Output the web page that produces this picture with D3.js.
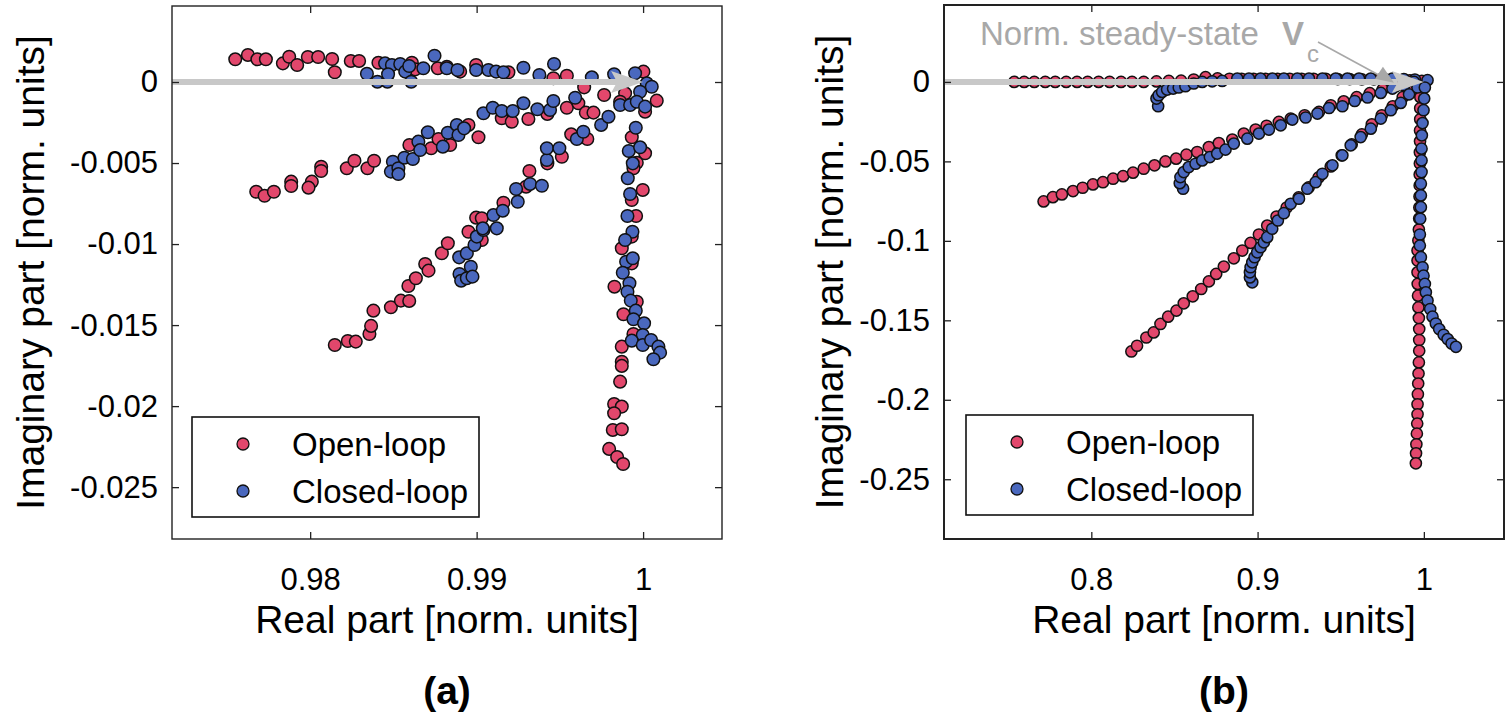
<!DOCTYPE html>
<html>
<head>
<meta charset="utf-8">
<script src="https://cdn.jsdelivr.net/npm/d3@7"></script>
<style>
  body { margin: 0; background: #fff; }
  svg { display: block; font-family: Arial, "Liberation Sans", sans-serif; }
</style>
</head>
<body>
<svg id="chart" width="1510" height="726"></svg>
<script>
// ---- data: panel (a) ----
const aXTicks = [0.98, 0.99, 1]
const aXTickLabels = ['0.98', '0.99', '1']
const aYTicks = [0, -0.005, -0.01, -0.015, -0.02, -0.025]
const aYTickLabels = ['0', '-0.005', '-0.01', '-0.015', '-0.02', '-0.025']

const aOpen = [
  // near-horizontal branch
  [0.97550, 0.00140], [0.97626, 0.00167], [0.97683, 0.00140], [0.97734, 0.00140], [0.97836, 0.00115],
  [0.97874, 0.00156], [0.97922, 0.00105], [0.97986, 0.00154], [0.98048, 0.00154], [0.98132, 0.00142],
  [0.98148, 0.00060], [0.98244, 0.00130], [0.98294, 0.00130], [0.98410, 0.00119], [0.98611, 0.00119],
  [0.98631, 0.00078], [0.98767, 0.00085], [0.98821, 0.00094], [0.98901, 0.00064], [0.98997, 0.00105],
  [0.99191, 0.00060], [0.99461, 0.00023], [0.99542, 0.00039], [0.99646, -0.00033], [0.99766, -0.00080],
  [1.00002, 0.00064], [1.00082, -0.00115], [1.00012, -0.00183],
  // second branch
  [0.97676, -0.00677], [0.97726, -0.00702], [0.97782, -0.00677], [0.97886, -0.00615], [0.97886, -0.00642],
  [0.98010, -0.00615], [0.97990, -0.00652], [0.98066, -0.00523], [0.98066, -0.00549], [0.98220, -0.00532],
  [0.98266, -0.00486], [0.98344, -0.00532], [0.98384, -0.00486], [0.98596, -0.00389], [0.98727, -0.00409],
  [0.98771, -0.00352], [0.98841, -0.00389], [0.98951, -0.00265], [0.99011, -0.00341], [0.99151, -0.00224],
  [0.99211, -0.00245], [0.99311, -0.00228], [0.99425, -0.00197], [0.99542, -0.00159], [0.99611, -0.00131],
  [0.99656, -0.00189], [0.99702, -0.00189], [0.99892, -0.00070], [0.99862, -0.00122],
  // third branch
  [0.98148, -0.01623], [0.98226, -0.01598], [0.98274, -0.01602], [0.98356, -0.01555], [0.98366, -0.01505],
  [0.98380, -0.01411], [0.98485, -0.01390], [0.98545, -0.01349], [0.98595, -0.01351], [0.98590, -0.01259],
  [0.98635, -0.01211], [0.98691, -0.01123], [0.98711, -0.01164], [0.98791, -0.01057], [0.98827, -0.00995],
  [0.98951, -0.00924], [0.99031, -0.00975], [0.98997, -0.00837], [0.99031, -0.00841], [0.99161, -0.00745],
  [0.99297, -0.00646], [0.99317, -0.00549], [0.99425, -0.00502], [0.99512, -0.00461], [0.99568, -0.00323],
  [0.99665, -0.00352],
  // vertical branch
  [0.99932, -0.00341], [1.00012, -0.00440], [0.99962, -0.00498], [0.99942, -0.00532], [0.99998, -0.00666],
  [0.99932, -0.00728], [0.99958, -0.00827], [0.99932, -0.00954], [0.99872, -0.01026], [0.99932, -0.01119],
  [0.99828, -0.01263], [0.99962, -0.01356], [0.99882, -0.01433], [0.99942, -0.01555], [0.99872, -0.01633],
  [0.99872, -0.01726], [0.99872, -0.01752], [0.99862, -0.01849], [0.99826, -0.01987], [0.99872, -0.02003],
  [0.99826, -0.02044], [0.99818, -0.02147], [0.99872, -0.02143], [0.99796, -0.02264], [0.99844, -0.02314],
  [0.99880, -0.02357]
]

const aClosed = [
  // near-horizontal branch
  [0.98341, 0.00051], [0.98450, 0.00115], [0.98404, 0.00002], [0.98464, 0.00002], [0.98491, 0.00105],
  [0.98541, 0.00111], [0.98468, 0.00048], [0.98571, 0.00064], [0.98595, 0.00099], [0.98607, 0.00002],
  [0.98680, 0.00085], [0.98747, 0.00162], [0.98821, 0.00085], [0.98885, 0.00074], [0.98997, 0.00074],
  [0.99071, 0.00074], [0.99117, 0.00064], [0.99161, 0.00060], [0.99281, 0.00088], [0.99377, 0.00043],
  [0.99465, 0.00111], [0.99692, 0.00029], [0.99826, 0.00048], [0.99952, 0.00054], [1.00022, -0.00008],
  [1.00052, -0.00029], [0.99982, -0.00060],
  // second branch
  [0.98497, -0.00492], [0.98485, -0.00553], [0.98530, -0.00532], [0.98530, -0.00568], [0.98566, -0.00467],
  [0.98617, -0.00475], [0.98650, -0.00368], [0.98661, -0.00420], [0.98707, -0.00310], [0.98797, -0.00399],
  [0.98827, -0.00313], [0.98881, -0.00265], [0.98891, -0.00327], [0.98925, -0.00286], [0.99041, -0.00193],
  [0.99097, -0.00159], [0.99151, -0.00179], [0.99217, -0.00179], [0.99281, -0.00131], [0.99365, -0.00168],
  [0.99441, -0.00173], [0.99461, -0.00117], [0.99592, -0.00097], [0.99862, -0.00142], [0.99922, -0.00142],
  [0.99962, -0.00122], [1.00012, -0.00152],
  // third branch
  [0.98895, -0.01082], [0.98941, -0.01057], [0.98965, -0.01140], [0.98897, -0.01185], [0.98907, -0.01226],
  [0.98941, -0.01211], [0.98975, -0.01201], [0.98987, -0.01006], [0.99001, -0.00954], [0.99041, -0.00913],
  [0.99037, -0.00903], [0.99121, -0.00903], [0.99101, -0.00821], [0.99157, -0.00794], [0.99247, -0.00739],
  [0.99237, -0.00660], [0.99321, -0.00629], [0.99392, -0.00640], [0.99422, -0.00481], [0.99422, -0.00409],
  [0.99497, -0.00409], [0.99602, -0.00352], [0.99641, -0.00307], [0.99748, -0.00265], [0.99792, -0.00214],
  // vertical branch
  [0.99956, -0.00282], [0.99914, -0.00426], [0.99982, -0.00403], [0.99938, -0.00502], [0.99908, -0.00594],
  [0.99922, -0.00691], [0.99906, -0.00827], [0.99936, -0.00924], [0.99892, -0.00975], [0.99898, -0.01109],
  [0.99938, -0.01088], [0.99878, -0.01177], [0.99918, -0.01242], [0.99906, -0.01294], [0.99926, -0.01349],
  [0.99956, -0.01411], [0.99942, -0.01464], [1.00006, -0.01489], [0.99998, -0.01561], [0.99932, -0.01596],
  [0.99998, -0.01623], [1.00048, -0.01592], [1.00092, -0.01633], [1.00102, -0.01670], [1.00062, -0.01711]
]

// ---- data: panel (b) ----
const bXTicks = [0.8, 0.9, 1]
const bXTickLabels = ['0.8', '0.9', '1']
const bYTicks = [0, -0.05, -0.1, -0.15, -0.2, -0.25]
const bYTickLabels = ['0', '-0.05', '-0.1', '-0.15', '-0.2', '-0.25']

const bOpen = [
  // horizontal branch
  [0.7536, 0], [0.7596, 0], [0.7657, 0], [0.7723, 0], [0.7783, 0], [0.7849, 0], [0.7914, 0], [0.7978, 0],
  [0.8044, 0], [0.8110, 0], [0.8179, 0], [0.8245, 0], [0.8315, 0], [0.8392, 0.0003], [0.8466, 0.0006],
  [0.8540, 0.0008], [0.8616, 0.0015], [0.8687, 0.0030], [0.8759, 0.0022], [0.8831, 0.0020], [0.8904, 0.0020],
  [0.8976, 0.0020], [0.9048, 0.0020], [0.9120, 0.0020], [0.9193, 0.0020], [0.9265, 0.0020], [0.9337, 0.0020],
  [0.9410, 0.0020], [0.9482, 0.0018], [0.9554, 0.0018], [0.9627, 0.0016], [0.9699, 0.0016], [0.9771, 0.0014],
  [0.9843, 0.0012], [0.9916, 0.0010], [0.9988, 0.0006],
  // second branch
  [0.7713, -0.0752], [0.7769, -0.0725], [0.7823, -0.0708], [0.7890, -0.0687], [0.7948, -0.0666],
  [0.8010, -0.0645], [0.8070, -0.0631], [0.8131, -0.0609], [0.8191, -0.0593], [0.8251, -0.0571],
  [0.8315, -0.0546], [0.8380, -0.0525], [0.8446, -0.0500], [0.8510, -0.0483], [0.8572, -0.0458],
  [0.8637, -0.0441], [0.8707, -0.0410], [0.8767, -0.0385], [0.8848, -0.0363], [0.8917, -0.0325],
  [0.8988, -0.0300], [0.9054, -0.0276], [0.9128, -0.0252], [0.9199, -0.0231], [0.9283, -0.0210],
  [0.9369, -0.0189], [0.9440, -0.0147], [0.9518, -0.0122], [0.9596, -0.0096], [0.9675, -0.0071],
  [0.9753, -0.0046], [0.9831, -0.0027], [0.9910, -0.0008],
  // third branch
  [0.8241, -0.1696], [0.8275, -0.1660], [0.8331, -0.1608], [0.8375, -0.1576], [0.8416, -0.1523],
  [0.8462, -0.1477], [0.8512, -0.1439], [0.8556, -0.1393], [0.8610, -0.1349], [0.8661, -0.1303],
  [0.8707, -0.1255], [0.8751, -0.1208], [0.8797, -0.1162], [0.8857, -0.1110], [0.8908, -0.1061],
  [0.8958, -0.1013], [0.9008, -0.0960], [0.9058, -0.0904], [0.9114, -0.0847], [0.9175, -0.0790],
  [0.9247, -0.0727], [0.9307, -0.0664], [0.9367, -0.0601], [0.9440, -0.0532], [0.9506, -0.0462],
  [0.9566, -0.0393], [0.9627, -0.0330], [0.9687, -0.0267], [0.9747, -0.0210], [0.9813, -0.0153],
  [0.9873, -0.0096], [0.9934, -0.0046],
  // vertical branch
  [0.9979, -0.0027], [0.9979, -0.0096], [0.9978, -0.0166], [0.9978, -0.0235], [0.9977, -0.0305],
  [0.9977, -0.0374], [0.9976, -0.0443], [0.9976, -0.0513], [0.9975, -0.0582], [0.9975, -0.0651],
  [0.9974, -0.0721], [0.9973, -0.0790], [0.9972, -0.0859], [0.9970, -0.0929], [0.9967, -0.0998],
  [0.9962, -0.1061], [0.9962, -0.1124], [0.9962, -0.1198], [0.9963, -0.1271], [0.9965, -0.1345],
  [0.9967, -0.1419], [0.9970, -0.1486], [0.9972, -0.1555], [0.9972, -0.1624], [0.9972, -0.1692],
  [0.9970, -0.1765], [0.9968, -0.1835], [0.9966, -0.1898], [0.9964, -0.1965], [0.9962, -0.2028],
  [0.9962, -0.2091], [0.9960, -0.2150], [0.9958, -0.2213], [0.9955, -0.2280], [0.9953, -0.2337],
  [0.9952, -0.2400]
]

const bClosed = [
  // horizontal branch with hook
  [0.8402, -0.0153], [0.8392, -0.0105], [0.8405, -0.0084], [0.8426, -0.0063], [0.8456, -0.0048],
  [0.8492, -0.0042], [0.8526, -0.0035], [0.8566, -0.0027], [0.8616, -0.0010], [0.8667, 0.0000],
  [0.8727, 0.0004], [0.8787, 0.0006], [0.8878, 0.0021], [0.8948, 0.0021], [0.9018, 0.0021],
  [0.9089, 0.0021], [0.9158, 0.0021], [0.9239, 0.0021], [0.9309, 0.0021], [0.9390, 0.0021],
  [0.9470, 0.0021], [0.9540, 0.0021], [0.9610, 0.0021], [0.9681, 0.0021], [0.9751, 0.0021],
  [0.9811, 0.0021], [0.9880, 0.0018], [0.9946, 0.0015], [1.0022, 0.0011],
  // second branch
  [0.8552, -0.0672], [0.8532, -0.0637], [0.8536, -0.0599], [0.8556, -0.0567], [0.8586, -0.0536],
  [0.8627, -0.0515], [0.8667, -0.0494], [0.8713, -0.0473], [0.8757, -0.0451], [0.8807, -0.0426],
  [0.8857, -0.0388], [0.8938, -0.0357], [0.9008, -0.0325], [0.9068, -0.0300], [0.9139, -0.0273],
  [0.9209, -0.0237], [0.9289, -0.0224], [0.9360, -0.0199], [0.9430, -0.0164], [0.9510, -0.0153],
  [0.9584, -0.0120], [0.9661, -0.0098], [0.9741, -0.0069], [0.9811, -0.0042], [0.9881, -0.0021],
  [0.9941, 0.0000],
  // third branch
  [0.8968, -0.1261], [0.8954, -0.1230], [0.8954, -0.1198], [0.8958, -0.1166], [0.8968, -0.1135],
  [0.8982, -0.1103], [0.8998, -0.1072], [0.9018, -0.1040], [0.9038, -0.1009], [0.9058, -0.0977],
  [0.9088, -0.0924], [0.9122, -0.0872], [0.9158, -0.0826], [0.9199, -0.0767], [0.9249, -0.0735],
  [0.9299, -0.0672], [0.9349, -0.0631], [0.9390, -0.0578], [0.9450, -0.0525], [0.9510, -0.0462],
  [0.9560, -0.0399], [0.9620, -0.0347], [0.9681, -0.0294], [0.9741, -0.0231], [0.9801, -0.0178],
  [0.9861, -0.0132], [0.9911, -0.0078], [0.9962, -0.0035],
  // vertical branch bending right
  [1.0006, -0.0035], [1.0002, -0.0105], [0.9998, -0.0178], [0.9992, -0.0259], [0.9988, -0.0336],
  [0.9986, -0.0420], [0.9986, -0.0494], [0.9986, -0.0567], [0.9982, -0.0641], [0.9982, -0.0714],
  [0.9982, -0.0788], [0.9978, -0.0861], [0.9976, -0.0960], [0.9976, -0.1030], [0.9982, -0.1103],
  [0.9992, -0.1166], [0.9998, -0.1219], [1.0006, -0.1271], [1.0012, -0.1324], [1.0022, -0.1376],
  [1.0038, -0.1429], [1.0052, -0.1477], [1.0072, -0.1520], [1.0092, -0.1555], [1.0119, -0.1591],
  [1.0143, -0.1618], [1.0167, -0.1646], [1.0193, -0.1667]
]

const seriesNames = ['Open-loop', 'Closed-loop']
const seriesColors = ['#e2476c', '#4a68be']

const svg = d3.select('#chart')

function drawPanel(p) {
  let x = d3.scaleLinear().domain(p.xDomain).range([p.left, p.right])
  let y = d3.scaleLinear().domain(p.yDomain).range([p.bottom, p.top])
  let g = svg.append('g')
  let tick = 7

  // points: open-loop first, closed-loop on top
  let sets = [p.open, p.closed]
  sets.forEach((pts, k) => {
    g.append('g').selectAll('circle').data(pts).enter().append('circle')
      .attr('cx', d => x(d[0]))
      .attr('cy', d => y(d[1]))
      .attr('r', p.r)
      .attr('fill', seriesColors[k])
      .attr('stroke', '#111')
      .attr('stroke-width', 1.5)
  })

  // thick grey arrow to steady state (drawn over the points)
  let ax0 = x(p.xDomain[0]), ax1 = x(1), ay = y(0)
  g.append('line')
    .attr('x1', ax0).attr('y1', ay).attr('x2', ax1 - 26).attr('y2', ay)
    .attr('stroke', '#c8c8c8').attr('stroke-width', 6)
  g.append('path')
    .attr('d', `M${ax1},${ay} L${ax1 - 32},${ay - 11} L${ax1 - 26},${ay} L${ax1 - 32},${ay + 11} Z`)
    .attr('fill', '#c8c8c8')

  // axes, ticks inward on all sides
  g.append('g').attr('transform', `translate(0,${p.bottom})`)
    .call(d3.axisBottom(x).tickValues(p.xTicks).tickFormat((d, i) => p.xTickLabels[i])
      .tickSizeInner(-tick).tickSizeOuter(0).tickPadding(29))
    .call(s => s.select('.domain').remove())
  g.append('g').attr('transform', `translate(0,${p.top})`)
    .call(d3.axisTop(x).tickValues(p.xTicks).tickFormat('').tickSizeInner(-tick).tickSizeOuter(0))
    .call(s => s.select('.domain').remove())
  g.append('g').attr('transform', `translate(${p.left},0)`)
    .call(d3.axisLeft(y).tickValues(p.yTicks).tickFormat((d, i) => p.yTickLabels[i])
      .tickSizeInner(-tick).tickSizeOuter(0).tickPadding(14))
    .call(s => s.select('.domain').remove())
  g.append('g').attr('transform', `translate(${p.right},0)`)
    .call(d3.axisRight(y).tickValues(p.yTicks).tickFormat('').tickSizeInner(-tick).tickSizeOuter(0))
    .call(s => s.select('.domain').remove())
  g.selectAll('.tick line').attr('stroke', '#222').attr('stroke-width', 1.3)
  g.selectAll('.tick text').attr('font-size', 31).attr('fill', '#000')
    .attr('font-family', 'Arial, "Liberation Sans", sans-serif')

  g.append('rect')
    .attr('x', p.left).attr('y', p.top)
    .attr('width', p.right - p.left).attr('height', p.bottom - p.top)
    .attr('fill', 'none').attr('stroke', '#222').attr('stroke-width', p.boxWidth)

  // legend
  g.append('rect')
    .attr('x', p.legX).attr('y', p.legY).attr('width', 287).attr('height', 100)
    .attr('fill', '#fff').attr('stroke', '#111').attr('stroke-width', 1.6)
  seriesNames.forEach((name, k) => {
    let cy = p.legY + 27 + k * 47
    g.append('circle').attr('cx', p.legX + 51).attr('cy', cy).attr('r', 6)
      .attr('fill', seriesColors[k]).attr('stroke', '#111').attr('stroke-width', 1.3)
    g.append('text').attr('x', p.legX + 100).attr('y', cy + 12)
      .attr('font-size', 33).text(name)
  })

  // axis titles and panel label
  let cx = (p.left + p.right) / 2
  g.append('text').attr('x', cx).attr('y', 633).attr('text-anchor', 'middle')
    .attr('font-size', 39).text('Real part [norm. units]')
  g.append('text').attr('transform', `translate(${p.yLabelX},${(p.top + p.bottom) / 2}) rotate(-90)`)
    .attr('text-anchor', 'middle').attr('font-size', 39).text('Imaginary part [norm. units]')
  g.append('text').attr('x', cx).attr('y', 704).attr('text-anchor', 'middle')
    .attr('font-size', 39).attr('font-weight', 'bold').text(p.label)

  return { x, y }
}

drawPanel({
  left: 172, right: 722, top: 6, bottom: 539,
  xDomain: [0.9717, 1.00474], yDomain: [-0.0282, 0.00469],
  xTicks: aXTicks, xTickLabels: aXTickLabels, yTicks: aYTicks, yTickLabels: aYTickLabels,
  open: aOpen, closed: aClosed, r: 6.3, boxWidth: 1.4,
  legX: 192, legY: 417, yLabelX: 44, label: '(a)'
})

let b = drawPanel({
  left: 944, right: 1504, top: 5, bottom: 539,
  xDomain: [0.7114, 1.0482], yDomain: [-0.2876, 0.0484],
  xTicks: bXTicks, xTickLabels: bXTickLabels, yTicks: bYTicks, yTickLabels: bYTickLabels,
  open: bOpen, closed: bClosed, r: 5.6, boxWidth: 2,
  legX: 966, legY: 415, yLabelX: 843, label: '(b)'
})

// annotation in panel (b)
let note = svg.append('g').attr('fill', '#a8a8a8')
note.append('text').attr('x', 980).attr('y', 45).attr('font-size', 33).text('Norm. steady-state')
note.append('text').attr('x', 1282).attr('y', 45).attr('font-size', 33).attr('font-weight', 'bold').text('V')
note.append('text').attr('x', 1307).attr('y', 62).attr('font-size', 24).text('c')
let tx = b.x(0.982), ty = b.y(-0.0005)
note.append('line').attr('x1', 1318).attr('y1', 42).attr('x2', tx - 12).attr('y2', ty - 6)
  .attr('stroke', '#a8a8a8').attr('stroke-width', 1.6)
note.append('path')
  .attr('d', `M${tx},${ty} L${tx - 19},${ty - 4} L${tx - 11},${ty - 16} Z`)
</script>
</body>
</html>
